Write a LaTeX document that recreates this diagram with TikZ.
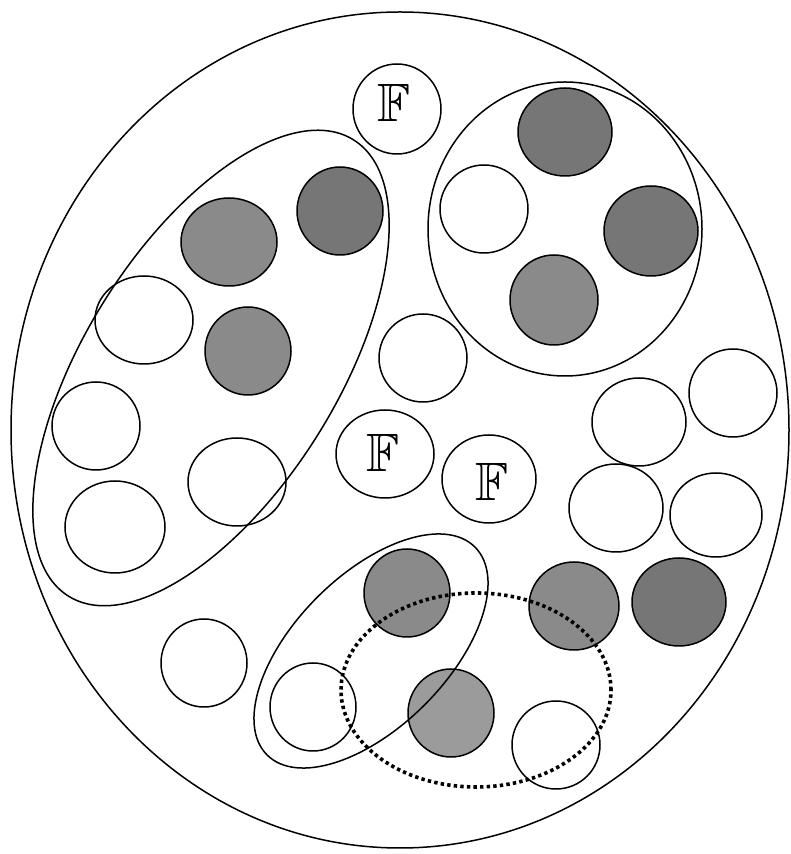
\documentclass[tikz,border=0pt]{standalone}
\usepackage{amssymb}
\definecolor{shDark}{RGB}{118,118,118}
\definecolor{shMid}{RGB}{138,138,138}
\definecolor{shLight}{RGB}{155,155,155}
\begin{document}
\begin{tikzpicture}[x=1pt,y=1pt,
  ring/.style={draw=black,line width=1.5pt},
  dk/.style={ring,fill=shDark},
  md/.style={ring,fill=shMid},
  lt/.style={ring,fill=shLight},
  wt/.style={ring,fill=white},
  group/.style={draw=black,line width=1.5pt},
  dotgroup/.style={draw=black,line width=3.6pt,dash pattern=on 3.4pt off 3.2pt},
  lbl/.style={inner sep=0pt,font=\fontsize{54}{54}\selectfont}]
\useasboundingbox (0,0) rectangle (790,854);
\fill[white] (0,0) rectangle (790,854);
% outer boundary
\draw[group] (400,424) ellipse [x radius=389,y radius=418];
% circles
\draw[wt] (397,745) ellipse [x radius=44,y radius=45];
\draw[dk] (340,643) ellipse [x radius=43,y radius=44];
\draw[md] (229,612) ellipse [x radius=48,y radius=44];
\draw[wt] (144,534) ellipse [x radius=49,y radius=44];
\draw[md] (248,503) ellipse [x radius=43,y radius=44];
\draw[wt] (96,428) ellipse [x radius=44,y radius=44];
\draw[wt] (237,372) ellipse [x radius=49,y radius=44];
\draw[wt] (115,327) ellipse [x radius=50,y radius=46];
\draw[dk] (565,722) ellipse [x radius=47,y radius=44];
\draw[wt] (484,645) ellipse [x radius=44,y radius=44];
\draw[dk] (651,623) ellipse [x radius=47,y radius=45];
\draw[md] (554,554) ellipse [x radius=44,y radius=45];
\draw[wt] (423,496) ellipse [x radius=44,y radius=44];
\draw[wt] (385,400) ellipse [x radius=49,y radius=44];
\draw[wt] (489,375) ellipse [x radius=47,y radius=44];
\draw[wt] (733,461) ellipse [x radius=44,y radius=44];
\draw[wt] (639,432) ellipse [x radius=47,y radius=44];
\draw[wt] (616,346) ellipse [x radius=47,y radius=44];
\draw[wt] (716,339) ellipse [x radius=46,y radius=42];
\draw[dk] (679,252) ellipse [x radius=47,y radius=44];
\draw[md] (574,248) ellipse [x radius=45,y radius=44];
\draw[md] (407,261) ellipse [x radius=43,y radius=44];
\draw[wt] (204,191) ellipse [x radius=43,y radius=44];
\draw[wt] (313,147) ellipse [x radius=43,y radius=44];
\draw[lt] (451,141) ellipse [x radius=43,y radius=44];
\draw[wt] (556,109) ellipse [x radius=44,y radius=44];
% labels
\node[lbl] (fTop) at (394,751) {$\mathbb{F}$};
\node[lbl] (fMid) at (383,401) {$\mathbb{F}$};
\node[lbl] (fRight) at (492,372) {$\mathbb{F}$};
% groups
\draw[group,rotate around={58:(211,486)}] (211,486) ellipse [x radius=269,y radius=126];
\draw[group] (565,625) ellipse [x radius=137,y radius=147];
\draw[group,rotate around={45:(371,203)}] (371,203) ellipse [x radius=147,y radius=76];
\draw[dotgroup] (476,164) ellipse [x radius=135,y radius=97];
\end{tikzpicture}
\end{document}
